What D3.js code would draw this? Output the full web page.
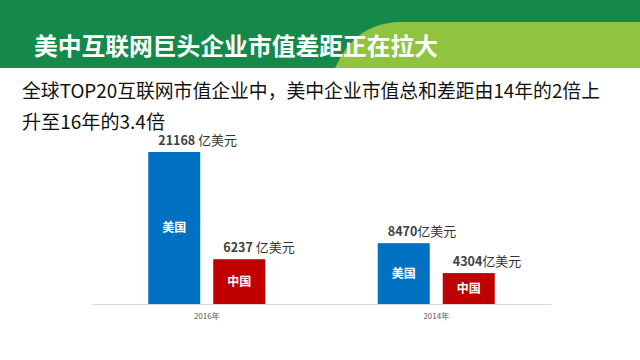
<!DOCTYPE html>
<html><head><meta charset="utf-8">
<script src="https://cdn.jsdelivr.net/npm/d3@7/dist/d3.min.js"></script>
<style>
html,body{margin:0;padding:0;background:#fff;}
svg{display:block;font-family:"Noto Sans CJK SC","Noto Sans",sans-serif;}
</style></head>
<body>
<svg id="chart" width="640" height="360"></svg>
<script>
const title = "美中互联网巨头企业市值差距正在拉大";
const subtitleLines = ["全球TOP20互联网市值企业中，美中企业市值总和差距由14年的2倍上", "升至16年的3.4倍"];
const years = ["2016年", "2014年"];
const countries = ["美国", "中国"];
const usValues = [21168, 8470];
const cnValues = [6237, 4304];
const unit = "亿美元";
const unitSep = [" ", ""];
const colors = ["#0070c0", "#c00000"];

const svg = d3.select("#chart");

// header
svg.append("rect").attr("x",0).attr("y",0).attr("width",640).attr("height",68).attr("fill","#14894a");
svg.append("path")
  .attr("d","M335,68 C348,40 366,24 398,22 L640,22 L640,68 Z")
  .attr("fill","#8fc340");
svg.append("text").attr("x",34).attr("y",55)
  .attr("fill","#fff").attr("font-size",24).attr("font-weight","bold")
  .attr("textLength",404).attr("lengthAdjust","spacingAndGlyphs")
  .text(title);

// subtitle
const subLens = [578, 143];
subtitleLines.forEach((s,i)=>{
  svg.append("text").attr("x",22).attr("y",98+i*31)
    .attr("fill","#111").attr("font-size",19)
    .attr("textLength",subLens[i]).attr("lengthAdjust","spacingAndGlyphs")
    .text(s);
});

// scales
const baseY = 304;
const x0 = d3.scaleBand().domain(years).range([92,551]).paddingInner(0).paddingOuter(0);
const half = x0.bandwidth()/2;
const x1 = d3.scaleBand().domain(countries).range([half-58.5, half+58.5]).paddingInner(0.2).paddingOuter(0);
const y = d3.scaleLinear().domain([0,21168]).range([baseY,152]);

const data = [];
years.forEach((yr,i)=>{
  data.push({year:yr, country:countries[0], value:usValues[i], color:colors[0], sep:unitSep[i]});
  data.push({year:yr, country:countries[1], value:cnValues[i], color:colors[1], sep:unitSep[i]});
});

// axis line
const axis = d3.axisBottom(x0).tickSize(0).tickPadding(9);
const ax = svg.append("g").attr("transform",`translate(0,${baseY})`).call(axis);
ax.select(".domain").attr("stroke","#d9d9d9").attr("stroke-width",1);
ax.selectAll("text").attr("font-size",8).attr("fill","#595959")
  .attr("font-family",'"Noto Sans CJK SC","Noto Sans",sans-serif');

const g = svg.append("g");
g.selectAll("rect.bar").data(data).join("rect").attr("class","bar")
  .attr("x",d=>x0(d.year)+x1(d.country))
  .attr("y",d=>y(d.value))
  .attr("width",x1.bandwidth())
  .attr("height",d=>baseY-y(d.value))
  .attr("fill",d=>d.color);

// inner labels
g.selectAll("text.inner").data(data).join("text").attr("class","inner")
  .attr("x",d=>x0(d.year)+x1(d.country)+x1.bandwidth()/2)
  .attr("y",d=>(y(d.value)+baseY)/2+4)
  .attr("text-anchor","middle").attr("fill","#fff")
  .attr("font-size",12).attr("font-weight","bold")
  .text(d=>d.country);

// value labels
const vl = g.selectAll("text.val").data(data).join("text").attr("class","val")
  .attr("x",d=>x0(d.year)+x1(d.country)+10)
  .attr("y",d=>y(d.value)-7)
  .attr("fill","#333");
vl.append("tspan").attr("font-size",12.5).attr("font-weight","bold").attr("fill","#404040")
  .text(d=>d.value);
vl.append("tspan").attr("font-size",13).attr("fill","#333")
  .text(d=>d.sep+unit);
</script>
</body></html>
